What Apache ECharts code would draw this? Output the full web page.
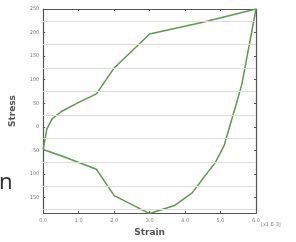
<!DOCTYPE html>
<html>
<head>
<meta charset="utf-8">
<script src="https://cdn.jsdelivr.net/npm/echarts@6/dist/echarts.min.js"></script>
<style>
  html, body { margin: 0; padding: 0; background: #fff; }
  #main { width: 296px; height: 242px; }
</style>
</head>
<body>
<div id="main"></div>
<script>
// loading branch (upper curve)
const loadStrain = [0, 0.1, 0.25, 0.5, 1.0, 1.5, 2.0, 3.0, 4.5, 6.0];
const loadStress = [-48, -5, 17, 32, 52, 70, 125, 197, 222, 250];
// unloading branch (lower curve)
const unloadStrain = [0, 0.6, 1.5, 2.0, 3.0, 3.7, 4.2, 4.5, 4.85, 5.1, 5.3, 5.45, 5.6, 6.0];
const unloadStress = [-48, -64, -90, -146, -184, -167, -140, -110, -76, -40, 12, 50, 90, 250];

const yTicks = [-150, -100, -50, 0, 50, 100, 150, 200, 250];
const gridLevels = [-175, -125, -75, -25, 25, 75, 125, 175, 225];

const lineColor = '#5e9a4e';
const frame = '#555';

function pairs(xs, ys) {
    return xs.map((x, i) => [x, ys[i]]);
}

const chart = echarts.init(document.getElementById('main'));

const labelStyle = { fontSize: 5, color: '#777', fontFamily: 'DejaVu Sans' };
const frameLine = { show: true, onZero: false, lineStyle: { color: frame, width: 1.2 } };

chart.setOption({
    animation: false,
    grid: { left: 41, right: 40, top: 9, bottom: 23 },
    xAxis: [
        {
            type: 'value', min: 0, max: 6, interval: 1,
            name: 'Strain', nameLocation: 'middle', nameGap: 12,
            nameTextStyle: { fontSize: 9, fontWeight: 'bold', color: '#555', fontFamily: 'DejaVu Sans' },
            axisLine: frameLine,
            axisTick: { inside: true, length: 2, lineStyle: { color: frame } },
            axisLabel: Object.assign({ margin: 5, formatter: v => v.toFixed(1) }, labelStyle),
            splitLine: { show: false }
        },
        {
            type: 'value', min: 0, max: 6, interval: 1, position: 'top',
            axisLine: frameLine,
            axisTick: { inside: true, length: 2, lineStyle: { color: frame } },
            axisLabel: { show: false },
            splitLine: { show: false }
        }
    ],
    yAxis: [
        {
            type: 'value', min: -183, max: 250,
            name: 'Stress', nameLocation: 'middle', nameGap: 18,
            nameTextStyle: { fontSize: 9, fontWeight: 'bold', color: '#555', fontFamily: 'DejaVu Sans' },
            axisLine: frameLine,
            axisTick: { show: true, inside: true, length: 2, customValues: yTicks, lineStyle: { color: frame } },
            axisLabel: Object.assign({ margin: 4, customValues: yTicks }, labelStyle),
            splitLine: { show: false }
        },
        {
            type: 'value', min: -183, max: 250, position: 'right',
            axisLine: frameLine,
            axisTick: { show: true, inside: true, length: 2, customValues: yTicks, lineStyle: { color: frame } },
            axisLabel: { show: false },
            splitLine: { show: false }
        }
    ],
    graphic: [
        { type: 'text', left: 261, top: 222, style: { text: '[x1 E-3]', fontSize: 5, fill: '#777', fontFamily: 'DejaVu Sans' } },
        { type: 'text', left: -1, top: 172, style: { text: 'n', fontSize: 22, fill: '#333', fontFamily: 'Noto Sans' } }
    ],
    series: [
        {
            type: 'line', data: pairs(loadStrain, loadStress),
            symbol: 'none', z: 3,
            lineStyle: { color: lineColor, width: 1.5 },
            markLine: {
                silent: true, symbol: 'none', label: { show: false },
                lineStyle: { color: '#ddd', type: 'solid', width: 1 },
                data: gridLevels.map(v => ({ yAxis: v }))
            }
        },
        {
            type: 'line', data: pairs(unloadStrain, unloadStress),
            symbol: 'none', z: 3,
            lineStyle: { color: lineColor, width: 1.5 }
        }
    ]
});
</script>
</body>
</html>
